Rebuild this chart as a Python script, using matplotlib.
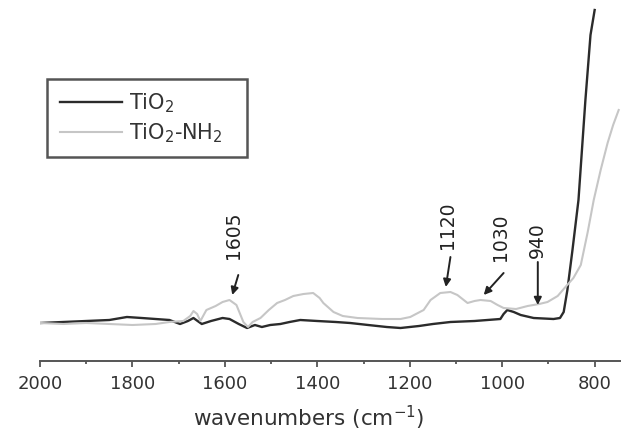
import matplotlib
matplotlib.use('Agg')
import matplotlib.pyplot as plt
import numpy as np

plt.rcParams['font.family'] = ['DejaVu Sans']
plt.rcParams['mathtext.default'] = 'regular'

# TiO2 spectrum (wavenumber cm-1, absorbance a.u.)
tio2_wn = [2000, 1950, 1900, 1850, 1812, 1780, 1750, 1720, 1697, 1680, 1668, 1650,
           1630, 1605, 1590, 1570, 1552, 1535, 1520, 1502, 1480, 1460, 1437, 1400,
           1360, 1329, 1290, 1250, 1220, 1180, 1150, 1112, 1060, 1004, 997, 989,
           975, 960, 932, 889, 875, 867, 859, 848, 835, 820, 809, 800]
tio2_abs = [0.38, 0.39, 0.40, 0.41, 0.44, 0.43, 0.42, 0.41, 0.37, 0.40, 0.43, 0.37,
            0.40, 0.43, 0.42, 0.37, 0.33, 0.36, 0.34, 0.36, 0.37, 0.39, 0.41, 0.40,
            0.39, 0.38, 0.36, 0.34, 0.33, 0.35, 0.37, 0.39, 0.40, 0.42, 0.47, 0.51,
            0.49, 0.46, 0.43, 0.42, 0.43, 0.49, 0.71, 1.11, 1.61, 2.61, 3.26, 3.51]

# TiO2-NH2 spectrum
nh2_wn = [2000, 1950, 1900, 1850, 1800, 1750, 1720, 1690, 1675, 1668, 1660, 1653,
          1640, 1620, 1605, 1590, 1575, 1560, 1550, 1540, 1523, 1505, 1487, 1470,
          1452, 1430, 1409, 1395, 1387, 1365, 1345, 1313, 1260, 1220, 1199, 1170,
          1155, 1134, 1112, 1097, 1075, 1060, 1047, 1025, 1010, 997, 970, 945,
          920, 902, 880, 867, 846, 830, 815, 802, 787, 772, 760, 748]
nh2_abs = [0.38, 0.37, 0.38, 0.37, 0.36, 0.37, 0.39, 0.40, 0.45, 0.50, 0.47, 0.40,
           0.51, 0.55, 0.59, 0.61, 0.56, 0.39, 0.34, 0.39, 0.43, 0.51, 0.58, 0.61,
           0.65, 0.67, 0.68, 0.63, 0.58, 0.49, 0.45, 0.43, 0.42, 0.42, 0.44, 0.51,
           0.61, 0.68, 0.69, 0.66, 0.58, 0.60, 0.61, 0.60, 0.56, 0.53, 0.52, 0.55,
           0.57, 0.59, 0.65, 0.72, 0.83, 0.96, 1.29, 1.61, 1.91, 2.18, 2.36, 2.51]

peak_labels = ['1605', '1120', '1030', '940']
# (text x, text y, arrow tail x, tail y, head x, head y)
peak_pos = [(1582, 1.26, 1571, 0.86, 1584, 0.66),
            (1118, 1.36, 1112, 1.04, 1122, 0.74),
            (1003, 1.24, 997, 0.88, 1040, 0.66),
            (923, 1.21, 923, 0.99, 923, 0.56)]

fig = plt.figure(figsize=(6.21, 4.34), dpi=100)
ax = fig.add_axes([40 / 621, 73 / 434, 581 / 621, 361 / 434])

ax.plot(tio2_wn, tio2_abs, color='#2b2b2b', lw=1.7, label='TiO$_2$')
ax.plot(nh2_wn, nh2_abs, color='#c6c6c6', lw=1.5, label='TiO$_2$-NH$_2$')

for lab, (tx, ty, ax0, ay0, hx, hy) in zip(peak_labels, peak_pos):
    ax.text(tx, ty, lab, rotation=90, ha='center', va='center', fontsize=13.5, color='#222222')
    ax.annotate('', xy=(hx, hy), xytext=(ax0, ay0),
                arrowprops=dict(arrowstyle='-|>', color='#222222', lw=1.4, mutation_scale=11,
                                shrinkA=0, shrinkB=0))

ax.set_xlim(2000, 743)
ax.set_ylim(0, 3.61)
ax.set_xticks(np.arange(2000, 799, -200))
ax.set_xticks(np.arange(1900, 799, -200), minor=True)
ax.tick_params(axis='x', which='major', direction='out', length=4, width=1.3,
               colors='#555555', labelsize=13, pad=6, labelcolor='#333333')
ax.tick_params(axis='x', which='minor', direction='out', length=2.5, width=1.3, colors='#555555')
ax.set_yticks([])
for side in ['left', 'right', 'top']:
    ax.spines[side].set_visible(False)
ax.spines['bottom'].set_color('#555555')
ax.spines['bottom'].set_linewidth(1.4)
ax.patch.set_visible(False)

ax.set_xlabel('wavenumbers (cm$^{-1}$)', fontsize=15.5, color='#333333')
ax.xaxis.set_label_coords((309 - 40) / 581, -57 / 361)
ax.xaxis.label.set_va('center')

leg = ax.legend(loc='upper left', bbox_to_anchor=(7 / 581, 203 / 361, 200 / 581, 79 / 361),
                mode='expand', borderaxespad=0,
                fontsize=15, handlelength=3.0, handletextpad=0.35, fancybox=False,
                framealpha=1, edgecolor='#555555', borderpad=0.6, labelspacing=0.3)
leg.get_frame().set_linewidth(1.8)
for t in leg.get_texts():
    t.set_color('#333333')

plt.savefig('out.png', dpi=100)
